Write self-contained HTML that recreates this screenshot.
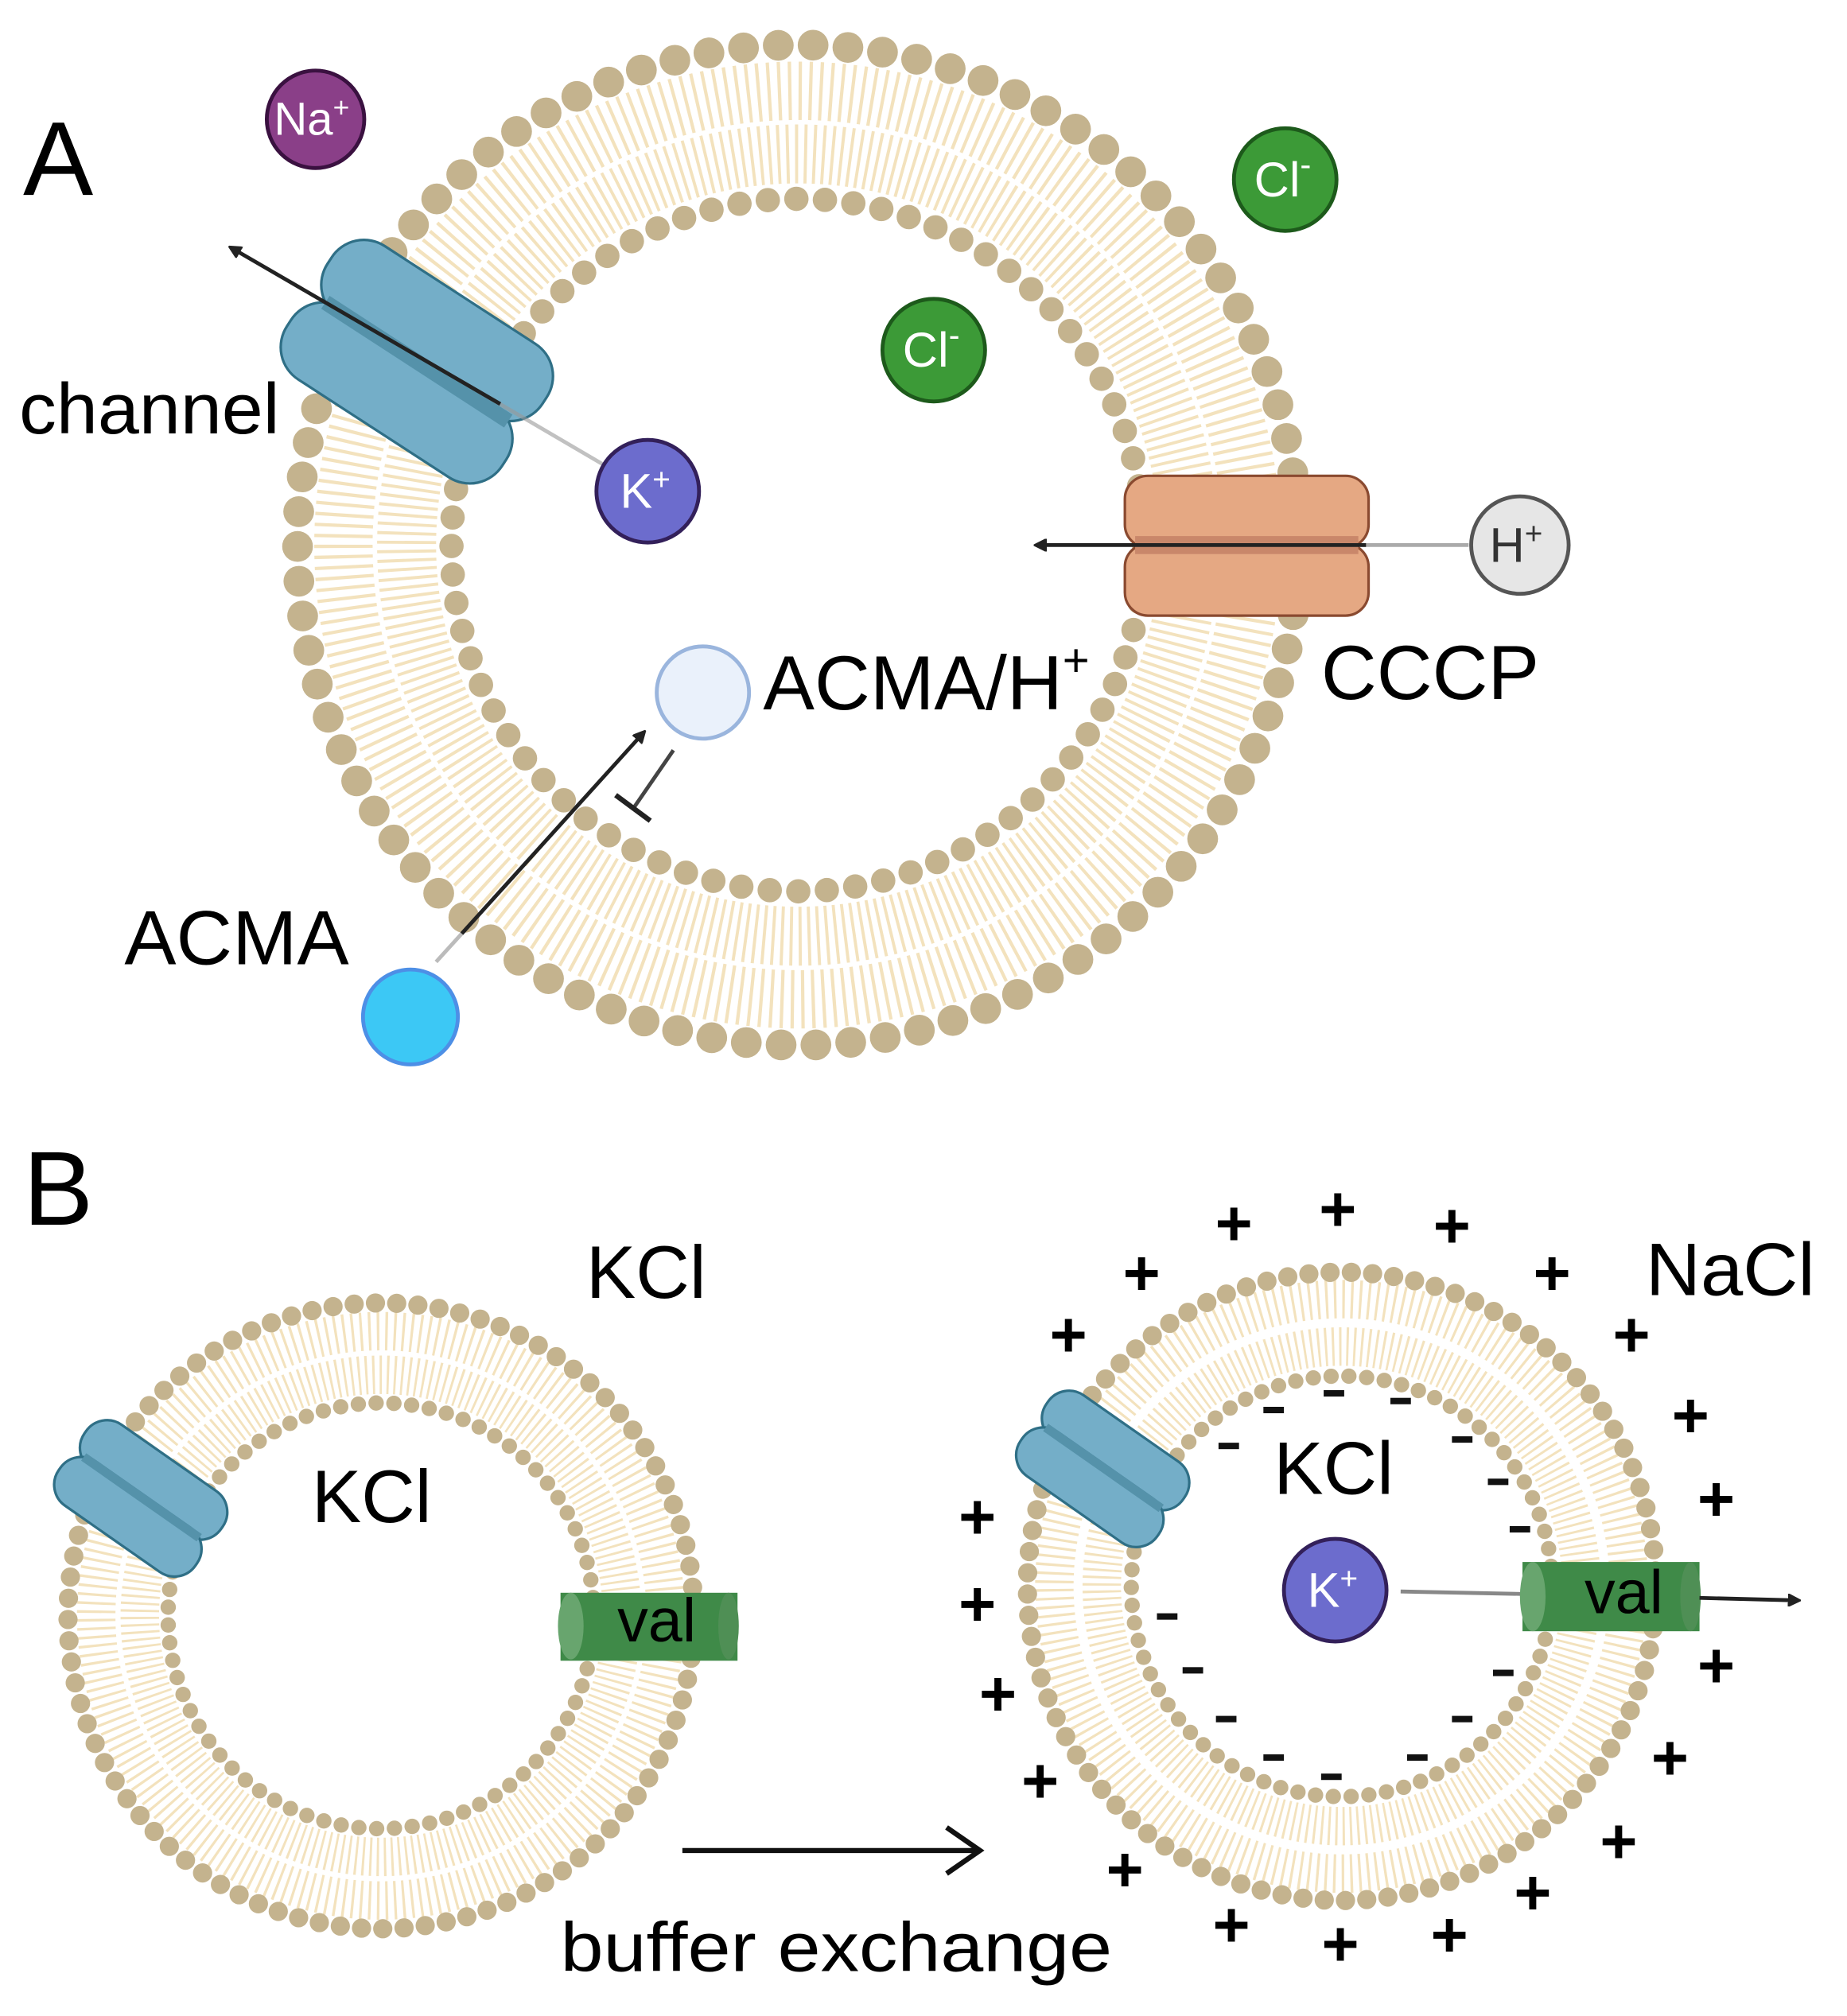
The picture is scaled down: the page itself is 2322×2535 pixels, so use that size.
<!DOCTYPE html>
<html><head><meta charset="utf-8"><style>
html,body{margin:0;padding:0;background:#fff}
svg{display:block}
text{font-family:"Liberation Sans",Arial,sans-serif}
</style></head><body>
<svg width="2322" height="2535" viewBox="0 0 1440 1572" xmlns="http://www.w3.org/2000/svg">
<defs>
<marker id="ah" markerWidth="10" markerHeight="10" refX="8" refY="5" orient="auto" markerUnits="userSpaceOnUse"><path d="M0,0 L10,5 L0,10 z" fill="#222" transform="scale(1.6) translate(-3,-1.9)"/></marker>
</defs>

<!-- Vesicle A -->
<g>
<circle cx="622" cy="425" r="354" fill="none" stroke="#f3e2bd" stroke-width="46" stroke-dasharray="2.6 5.5"/>
<circle cx="622" cy="425" r="305" fill="none" stroke="#f3e2bd" stroke-width="46" stroke-dasharray="2.4 4.6"/>
<circle cx="622" cy="425" r="330" fill="none" stroke="#fff" stroke-width="3"/>
<circle cx="622" cy="425" r="390" fill="none" stroke="#c4b38e" stroke-width="24" stroke-linecap="round" stroke-dasharray="0 27.2"/>
<circle cx="622" cy="425" r="270" fill="none" stroke="#c4b38e" stroke-width="19" stroke-linecap="round" stroke-dasharray="0 22.3"/>
</g>

<!-- channel A -->
<g transform="translate(325,282) rotate(33)">
<rect x="-100" y="-62" width="200" height="66" rx="30" fill="#74aec8" stroke="#2f6f86" stroke-width="2"/>
<rect x="-100" y="-4" width="200" height="66" rx="30" fill="#74aec8" stroke="#2f6f86" stroke-width="2"/>
<rect x="-85" y="-6" width="170" height="12" fill="#5592aa"/>
</g>
<line x1="470" y1="362" x2="330" y2="280" stroke="#999" stroke-width="3" opacity="0.6"/>
<line x1="390" y1="315" x2="180" y2="193" stroke="#222" stroke-width="3" marker-end="url(#ah)"/>

<!-- CCCP -->
<g>
<rect x="877" y="371" width="190" height="56" rx="18" fill="#e5a883" stroke="#8a4a30" stroke-width="2"/>
<rect x="877" y="424" width="190" height="56" rx="18" fill="#e5a883" stroke="#8a4a30" stroke-width="2"/>
<rect x="885" y="418" width="174" height="14" fill="#c9876a"/>
</g>
<line x1="1145" y1="425" x2="1060" y2="425" stroke="#aaa" stroke-width="3"/>
<line x1="1065" y1="425" x2="808" y2="425" stroke="#222" stroke-width="3" marker-end="url(#ah)"/>

<!-- ACMA arrows -->
<line x1="340" y1="750" x2="360" y2="728" stroke="#bbb" stroke-width="3"/>
<line x1="360" y1="728" x2="502" y2="571" stroke="#222" stroke-width="3" marker-end="url(#ah)"/>
<line x1="525" y1="585" x2="494" y2="630" stroke="#444" stroke-width="3"/>
<line x1="480" y1="620" x2="507" y2="640" stroke="#222" stroke-width="4"/>

<!-- ions A -->
<circle cx="246" cy="93" r="38" fill="#8a3f88" stroke="#3a1140" stroke-width="3"/>
<text x="243" y="105" font-size="36" fill="#fff" text-anchor="middle">Na<tspan font-size="22" dy="-14">+</tspan></text>
<circle cx="1002" cy="140" r="40" fill="#3c9a37" stroke="#1d5a1b" stroke-width="3"/>
<text x="1000" y="153" font-size="38" fill="#fff" text-anchor="middle">Cl<tspan font-size="26" dy="-16">-</tspan></text>
<circle cx="728" cy="273" r="40" fill="#3c9a37" stroke="#1d5a1b" stroke-width="3"/>
<text x="726" y="286" font-size="38" fill="#fff" text-anchor="middle">Cl<tspan font-size="26" dy="-16">-</tspan></text>
<circle cx="505" cy="383" r="40" fill="#6c6ccd" stroke="#33205a" stroke-width="3"/>
<text x="503" y="396" font-size="38" fill="#fff" text-anchor="middle">K<tspan font-size="24" dy="-14">+</tspan></text>
<circle cx="1185" cy="425" r="38" fill="#e6e6e6" stroke="#555" stroke-width="3"/>
<text x="1182" y="438" font-size="38" fill="#333" text-anchor="middle">H<tspan font-size="24" dy="-14">+</tspan></text>
<circle cx="548" cy="540" r="36" fill="#eaf1fb" stroke="#9ab5dd" stroke-width="3"/>
<circle cx="320" cy="793" r="37" fill="#3cc8f5" stroke="#4d8fe6" stroke-width="3"/>

<!-- labels A -->
<text x="18" y="152" font-size="82">A</text>
<text x="15" y="338" font-size="56" textLength="203" lengthAdjust="spacingAndGlyphs">channel</text>
<text x="595" y="553" font-size="60">ACMA/H<tspan font-size="36" dy="-26">+</tspan></text>
<text x="1030" y="545" font-size="60" textLength="170" lengthAdjust="spacingAndGlyphs">CCCP</text>
<text x="97" y="752" font-size="60" textLength="175" lengthAdjust="spacingAndGlyphs">ACMA</text>

<!-- B -->
<text x="18" y="955" font-size="82">B</text>

<!-- Vesicle B left -->
<g>
<circle cx="297" cy="1260" r="222" fill="none" stroke="#f3e2bd" stroke-width="30" stroke-dasharray="2 4.6"/>
<circle cx="297" cy="1260" r="188" fill="none" stroke="#f3e2bd" stroke-width="30" stroke-dasharray="1.8 3.8"/>
<circle cx="297" cy="1260" r="205" fill="none" stroke="#fff" stroke-width="2.5"/>
<circle cx="297" cy="1260" r="244" fill="none" stroke="#c4b38e" stroke-width="15" stroke-linecap="round" stroke-dasharray="0 16.6"/>
<circle cx="297" cy="1260" r="166" fill="none" stroke="#c4b38e" stroke-width="12" stroke-linecap="round" stroke-dasharray="0 13.9"/>
</g>
<g transform="translate(110,1168) rotate(35)">
<rect x="-65" y="-38" width="130" height="42" rx="20" fill="#74aec8" stroke="#2f6f86" stroke-width="2"/>
<rect x="-65" y="-3" width="130" height="42" rx="20" fill="#74aec8" stroke="#2f6f86" stroke-width="2"/>
<rect x="-55" y="-4" width="110" height="7" fill="#5592aa"/>
</g>
<g>
<rect x="437" y="1242" width="138" height="53" fill="#3f8a48"/>
<ellipse cx="445" cy="1268" rx="10" ry="26" fill="#68a56e"/>
<ellipse cx="568" cy="1268" rx="8" ry="26" fill="#4f8f55"/>
</g>
<text x="512" y="1280" font-size="48" text-anchor="middle">val</text>
<text x="457" y="1012" font-size="58">KCl</text>
<text x="243" y="1187" font-size="58">KCl</text>

<!-- arrow buffer exchange -->
<line x1="532" y1="1443" x2="762" y2="1443" stroke="#111" stroke-width="4"/>
<polyline points="738,1425 764,1443 738,1461" fill="none" stroke="#111" stroke-width="4"/>
<text x="437" y="1537" font-size="54" textLength="430" lengthAdjust="spacingAndGlyphs">buffer exchange</text>

<!-- Vesicle B right -->
<g>
<circle cx="1046" cy="1237" r="224" fill="none" stroke="#f3e2bd" stroke-width="30" stroke-dasharray="2 4.6"/>
<circle cx="1046" cy="1237" r="187" fill="none" stroke="#f3e2bd" stroke-width="30" stroke-dasharray="1.8 3.8"/>
<circle cx="1046" cy="1237" r="205" fill="none" stroke="#fff" stroke-width="2.5"/>
<circle cx="1046" cy="1237" r="245" fill="none" stroke="#c4b38e" stroke-width="15" stroke-linecap="round" stroke-dasharray="0 16.6"/>
<circle cx="1046" cy="1237" r="164" fill="none" stroke="#c4b38e" stroke-width="12" stroke-linecap="round" stroke-dasharray="0 13.9"/>
</g>
<g transform="translate(860,1145) rotate(35)">
<rect x="-65" y="-38" width="130" height="42" rx="20" fill="#74aec8" stroke="#2f6f86" stroke-width="2"/>
<rect x="-65" y="-3" width="130" height="42" rx="20" fill="#74aec8" stroke="#2f6f86" stroke-width="2"/>
<rect x="-55" y="-4" width="110" height="7" fill="#5592aa"/>
</g>
<line x1="1092" y1="1241" x2="1190" y2="1243" stroke="#888" stroke-width="3"/>
<g>
<rect x="1187" y="1218" width="138" height="54" fill="#3f8a48"/>
<ellipse cx="1195" cy="1245" rx="10" ry="27" fill="#68a56e"/>
<ellipse cx="1318" cy="1245" rx="8" ry="27" fill="#4f8f55"/>
</g>
<text x="1266" y="1258" font-size="48" text-anchor="middle">val</text>
<line x1="1325" y1="1246" x2="1402" y2="1248" stroke="#222" stroke-width="3" marker-end="url(#ah)"/>
<circle cx="1041" cy="1240" r="40" fill="#6c6ccd" stroke="#33205a" stroke-width="3"/>
<text x="1039" y="1253" font-size="38" fill="#fff" text-anchor="middle">K<tspan font-size="24" dy="-14">+</tspan></text>
<text x="993" y="1165" font-size="58">KCl</text>
<text x="1283" y="1010" font-size="58" textLength="132" lengthAdjust="spacingAndGlyphs">NaCl</text>

<!-- plus signs -->
<g font-size="50" font-weight="bold" text-anchor="middle">
<text x="962" y="971">+</text><text x="1043" y="960">+</text><text x="1132" y="973">+</text>
<text x="890" y="1010">+</text><text x="1210" y="1010">+</text><text x="833" y="1058">+</text>
<text x="1272" y="1058">+</text><text x="1318" y="1121">+</text><text x="1338" y="1186">+</text>
<text x="762" y="1200">+</text><text x="762" y="1268">+</text><text x="1338" y="1316">+</text>
<text x="778" y="1338">+</text><text x="1302" y="1388">+</text><text x="811" y="1406">+</text>
<text x="1262" y="1453">+</text><text x="877" y="1475">+</text><text x="1195" y="1493">+</text>
<text x="960" y="1518">+</text><text x="1045" y="1533">+</text><text x="1130" y="1526">+</text>
</g>
<!-- minus signs -->
<g fill="#111">
<rect x="985" y="1097" width="16" height="5"/><rect x="1032" y="1084" width="16" height="5"/>
<rect x="1084" y="1090" width="16" height="5"/><rect x="950" y="1125" width="16" height="5"/>
<rect x="1132" y="1120" width="16" height="5"/><rect x="1160" y="1153" width="16" height="5"/>
<rect x="1177" y="1190" width="16" height="5"/><rect x="902" y="1258" width="16" height="5"/>
<rect x="922" y="1300" width="16" height="5"/><rect x="1164" y="1302" width="16" height="5"/>
<rect x="948" y="1338" width="16" height="5"/><rect x="1132" y="1338" width="16" height="5"/>
<rect x="985" y="1368" width="16" height="5"/><rect x="1030" y="1383" width="16" height="5"/>
<rect x="1097" y="1368" width="16" height="5"/>
</g>
</svg>
</body></html>
